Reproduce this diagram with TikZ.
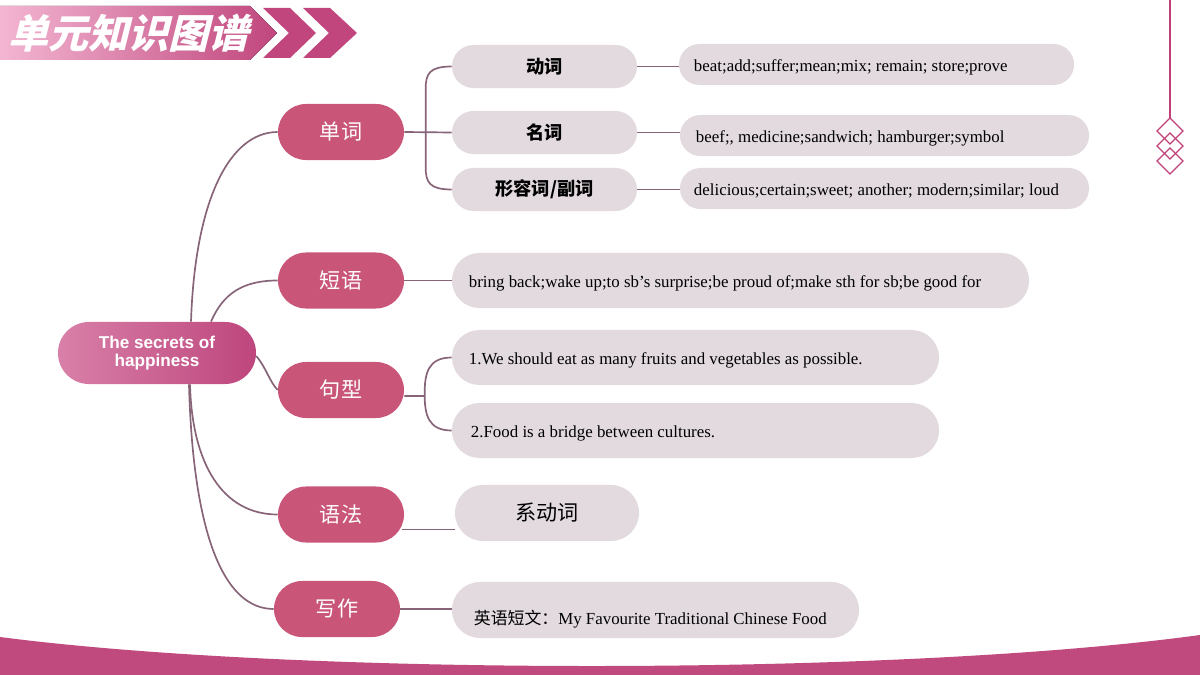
\documentclass[tikz,border=0pt]{standalone}
\usepackage{fontspec}
\setmainfont{Liberation Serif}
\newfontfamily\cjk{Noto Sans CJK SC}
\newfontfamily\cjkslant{Noto Sans CJK SC}[FakeSlant=0.25]
\newfontfamily\sansb{Liberation Sans}
\usetikzlibrary{calc}
\definecolor{pinkn}{RGB}{201,86,121}
\definecolor{grayn}{RGB}{226,218,223}
\definecolor{connc}{RGB}{135,100,120}
\definecolor{bandc}{RGB}{192,74,126}
\definecolor{bannerL}{RGB}{243,182,210}
\definecolor{bannerR}{RGB}{192,70,125}
\definecolor{decorc}{RGB}{192,64,122}
\definecolor{centerL}{RGB}{216,128,168}
\definecolor{centerR}{RGB}{190,70,125}
\begin{document}
\begin{tikzpicture}[x=0.025cm,y=-0.025cm,
  conn/.style={draw=connc, line width=1.2pt},
  lvone/.style={rectangle, rounded corners=0.7cm, fill=pinkn, text=white,
    minimum width=3.15cm, minimum height=1.4cm, inner sep=0pt,
    font=\cjk\fontsize{15}{18}\selectfont},
  lvtwo/.style={rectangle, rounded corners=0.5375cm, fill=grayn,
    minimum width=4.625cm, minimum height=1.075cm, inner sep=0pt,
    font=\cjk\bfseries\fontsize{13}{16}\selectfont},
  leaf/.style={rectangle, fill=grayn, align=flush left, inner ysep=0pt,
    font=\fontsize{12}{14}\selectfont, text height=12.5pt, text depth=2.5pt},
  leafs/.style={leaf, rounded corners=0.5125cm, minimum height=1.025cm},
  leafl/.style={leaf, rounded corners=0.6875cm, minimum height=1.375cm},
]
\useasboundingbox (0,0) rectangle (1200,675);

% bottom band
\fill[bandc] (0,637) .. controls (300,676) and (900,676) .. (1200,635) -- (1200,675) -- (0,675) -- cycle;

% title banner
\fill[left color=bannerL, right color=bannerR] (0,6) -- (250,6) -- (277,33) -- (250,60) -- (0,60) -- cycle;
\fill[bannerR] (263,8) -- (290,8) -- (316,33) -- (290,58) -- (263,58) -- (289,33) -- cycle;
\fill[bannerR] (303,8) -- (330,8) -- (357,33) -- (330,58) -- (303,58) -- (329,33) -- cycle;
\node[anchor=west, text=white, inner sep=0pt,
  font=\cjkslant\bfseries\fontsize{28.5}{30}\selectfont] (title) at (8,33) {单元知识图谱};

% right decoration
\draw[decorc, line width=0.9pt] (1170,0) -- (1170,118);
\draw[decorc, line width=0.9pt] (1170,118) -- (1183,131) -- (1170,144) -- (1157,131) -- cycle;
\draw[decorc, line width=0.9pt] (1170,133) -- (1183,146) -- (1170,159) -- (1157,146) -- cycle;
\draw[decorc, line width=0.9pt] (1170,148) -- (1183,161) -- (1170,174) -- (1157,161) -- cycle;

% center
\node[rectangle, rounded corners=0.775cm, minimum width=4.95cm, minimum height=1.55cm,
  left color=centerL, right color=centerR, text=white, align=center, inner sep=0pt,
  font=\sansb\bfseries\fontsize{12.2}{12.5}\selectfont] (c) at (157,353) {The secrets of\\happiness};

% level one
\node[lvone] (w1) at (341,132) {单词};
\node[lvone] (d1) at (341,280.5) {短语};
\node[lvone] (j1) at (341,390) {句型};
\node[lvone] (y1) at (341,514.5) {语法};
\node[lvone] (x1) at (337,609) {写作};

% level two
\node[lvtwo] (dong) at (544.5,66.5) {动词};
\node[lvtwo] (ming) at (544.5,132.5) {名词};
\node[lvtwo] (xing) at (544.5,189.5) {形容词/副词};

% leaves
\node[leafs, text width=9.125cm, inner xsep=0.375cm] (v) at (876.5,64.5) {beat;add;suffer;mean;mix; remain; store;prove};
\node[leafs, text width=9.425cm, inner xsep=0.4cm] (n) at (884.5,135.5) {beef;, medicine;sandwich; hamburger;symbol};
\node[leafs, text width=9.525cm, inner xsep=0.35cm] (a) at (884.5,188.5) {delicious;certain;sweet; another; modern;similar; loud};
\node[leafl, text width=13.575cm, inner xsep=0.425cm] (dp) at (740.5,280.5) {bring back;wake up;to sb’s surprise;be proud of;make sth for sb;be good for};
\node[leafl, text width=11.325cm, inner xsep=0.425cm] (s1) at (695.5,357.5) {1.We should eat as many fruits and vegetables as possible.};
\node[leafl, text width=11.225cm, inner xsep=0.475cm] (s2) at (695.5,430.5) {2.Food is a bridge between cultures.};
\node[rectangle, fill=grayn, rounded corners=0.7cm, minimum width=4.6cm, minimum height=1.4cm, inner sep=0pt,
  font=\cjk\fontsize{15}{18}\selectfont] (xdc) at (547,513) {系动词};
\node[leaf, rounded corners=0.7cm, minimum height=1.4cm, text width=9.075cm, inner xsep=0.55cm,
  text height=23pt, text depth=3pt] (wr) at (655.5,610) {{\cjk 英语短文：}My Favourite Traditional Chinese Food};

% connectors from center
\draw[conn] ($(c.north)+(34,0)$) .. controls +(4,-122) and +(-48,0) .. (w1.west);
\draw[conn] ($(c.north)+(54,0)$) .. controls +(12,-28) and +(-35,0) .. (d1.west);
\draw[conn] ($(c.east)+(0,3)$) .. controls +(10,12) and +(-8,-8) .. (j1.west);
\draw[conn] ($(c.south)+(33,0)$) .. controls +(2,80) and +(-55,0) .. (y1.west);
\draw[conn] ($(c.south)+(32,0)$) .. controls +(4,150) and +(-50,0) .. (x1.west);

% 单词 branch
\draw[conn] (w1.east) -- (ming.west);
\draw[conn] (dong.west) .. controls +(-22,0) and +(0,-15) .. ($(dong.west)+(-26,22)$) -- ($(xing.west)+(-26,-22)$) .. controls +(0,15) and +(-22,0) .. (xing.west);
\draw[conn] (dong.east) -- (dong.east -| v.west);
\draw[conn] (ming.east) -- (ming.east -| n.west);
\draw[conn] (xing.east) -- (xing.east -| a.west);

% 短语
\draw[conn] (d1.east) -- (d1.east -| dp.west);

% 句型
\draw[conn] (s1.west) .. controls +(-24,0) and +(0,-20) .. ($(s1.west)+(-27,36.5)$) .. controls +(0,20) and +(-24,0) .. (s2.west);
\draw[conn] ($(j1.east)+(0,6)$) -- ($(s1.west)+(-27,38.5)$);

% 语法
\draw[conn] ($(y1.east)+(-2,15)$) -- ($(xdc.west)+(0,16.5)$);

% 写作
\draw[conn] (x1.east) -- (x1.east -| wr.west);
\end{tikzpicture}
\end{document}
